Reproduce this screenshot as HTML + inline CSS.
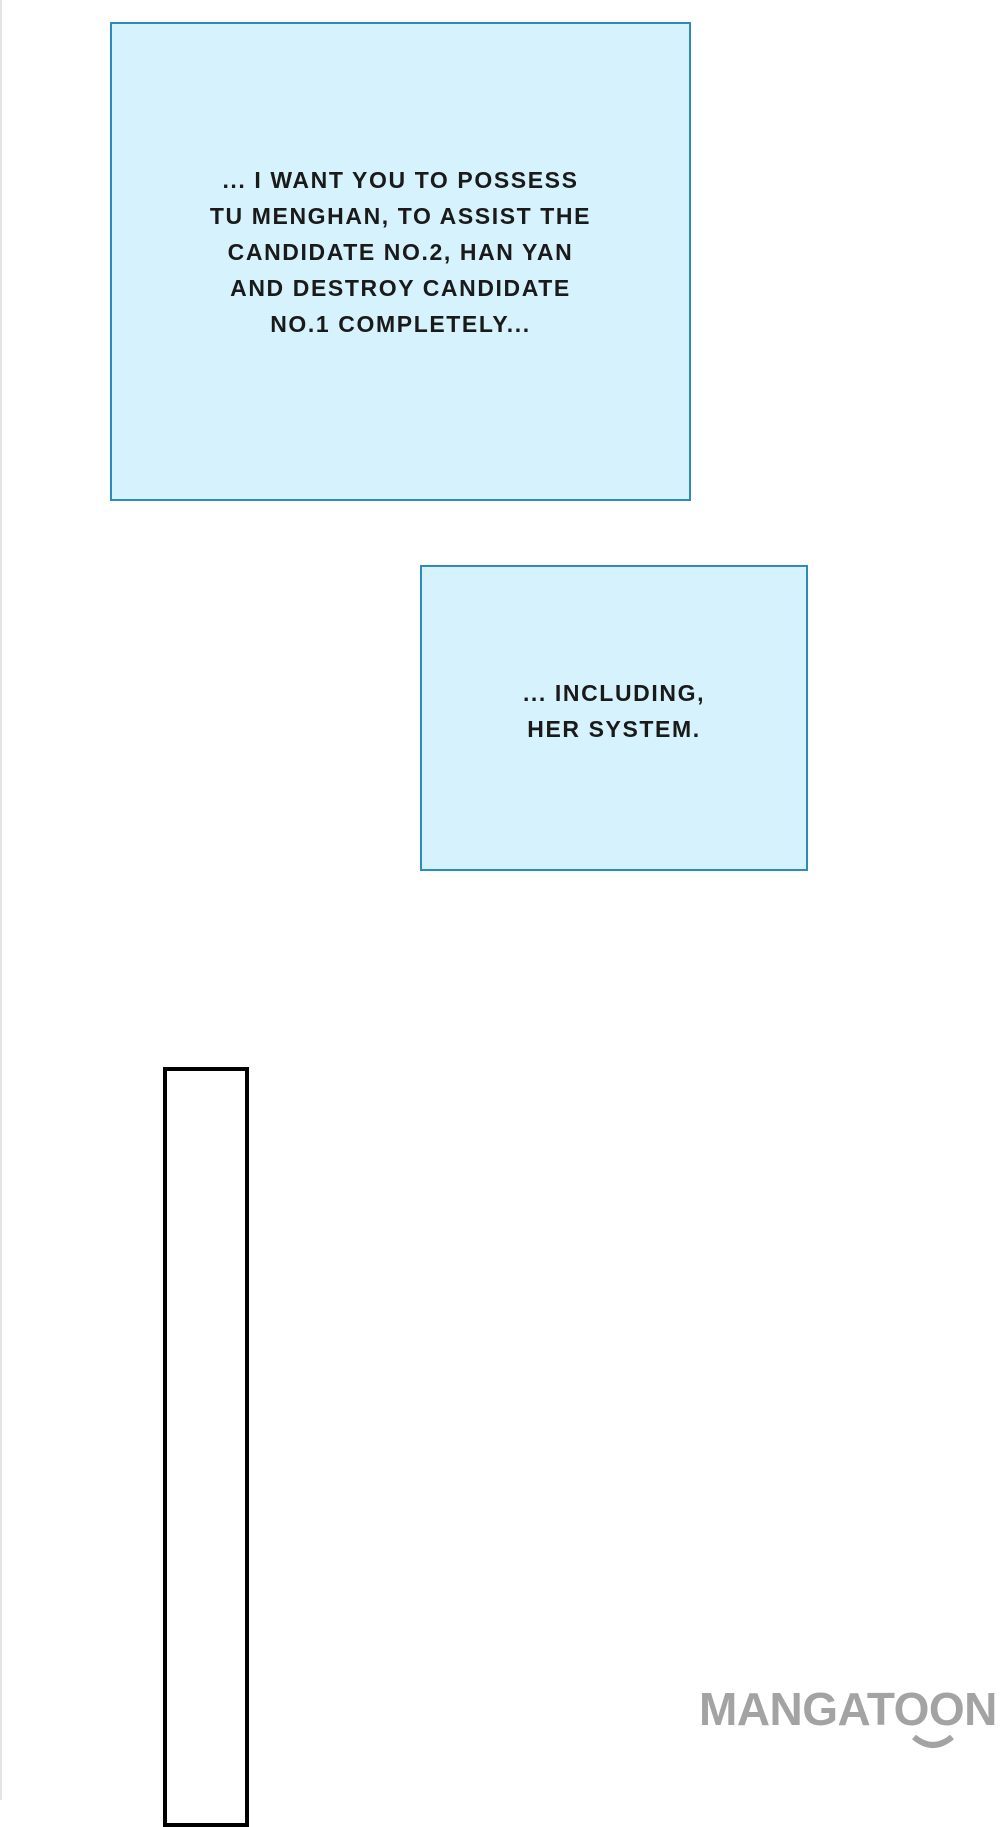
<!DOCTYPE html>
<html><head><style>
body{margin:0;width:1000px;height:1800px;background:#fff;position:relative;overflow:hidden;font-family:"Liberation Sans",sans-serif}
.b{position:absolute;background:#d6f3fd;border:2.5px solid #2b8cba;box-sizing:border-box}
.t{position:absolute;text-align:center;font-size:23px;font-weight:bold;letter-spacing:1.6px;line-height:36px;color:#1a1a1a;left:-40px;right:-40px;white-space:nowrap}
</style></head><body>
<div style="position:absolute;left:0;top:0;width:2px;height:1800px;background:#e4e4e4"></div>
<div class="b" style="left:110px;top:22px;width:581px;height:479px">
<div class="t" style="top:138px">... I WANT YOU TO POSSESS<br>TU MENGHAN, TO ASSIST THE<br>CANDIDATE NO.2, HAN YAN<br>AND DESTROY CANDIDATE<br>NO.1 COMPLETELY...</div>
</div>
<div class="b" style="left:420px;top:565px;width:388px;height:306px">
<div class="t" style="top:108px">... INCLUDING,<br>HER SYSTEM.</div>
</div>
<div style="position:absolute;left:163px;top:1067px;width:86px;height:760px;border:4px solid #000;box-sizing:border-box"></div>
<div style="position:absolute;left:699px;top:1682px;font-size:46px;font-weight:bold;color:#a3a3a3;letter-spacing:-0.5px;white-space:nowrap">MANGATOON</div>
<svg style="position:absolute;left:910px;top:1733px" width="46" height="20"><path d="M4 4 Q23 20 42 4" stroke="#a3a3a3" stroke-width="6" fill="none"/></svg>
</body></html>
